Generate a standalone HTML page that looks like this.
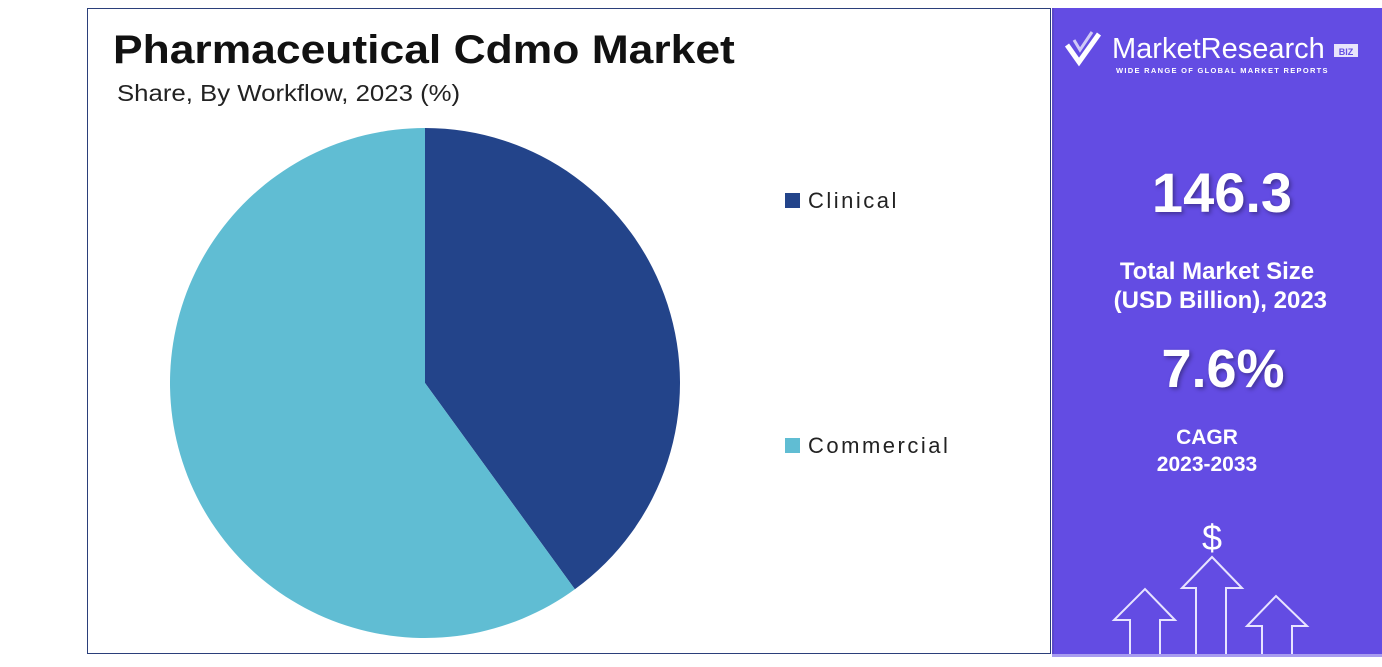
<!DOCTYPE html>
<html><head><meta charset="utf-8"><style>
body{margin:0;width:1382px;height:667px;background:#fff;position:relative;overflow:hidden;font-family:"Liberation Sans",sans-serif}
.abs{position:absolute}
</style></head><body>
<div class="abs" style="left:87px;top:8px;width:964px;height:646px;border:1px solid #2b3f7a;box-sizing:border-box"></div>
<div class="abs" style="left:113px;top:28px;font-size:40px;font-weight:bold;color:#111;transform:scaleX(1.11);transform-origin:0 0;white-space:nowrap">Pharmaceutical Cdmo Market</div>
<div class="abs" style="left:117px;top:80px;font-size:23px;color:#222;transform:scaleX(1.12);transform-origin:0 0;white-space:nowrap">Share, By Workflow, 2023 (%)</div>
<svg class="abs" style="left:0;top:0" width="1052" height="667">
<g id="pie"></g>
<g id="legend"></g>
</svg>
<div class="abs" style="left:1052px;top:8px;width:330px;height:647px;background:#634ce3;border-left:2px solid #5a48c8;box-sizing:border-box"></div>
<svg class="abs" style="left:1052px;top:0" width="330" height="667">
<g fill="none" stroke="#fff" stroke-width="5">
<path d="M15 45 L27 62 L47 34"/><path d="M22 40 L28 50 L40 32" stroke-width="3" opacity="0.7"/>
</g>
<text x="60" y="58" font-family="Liberation Sans" font-size="29" fill="#fff">MarketResearch</text>
<rect x="282" y="44" width="24" height="13" fill="#fff" opacity="0.85"/>
<text x="294" y="55" text-anchor="middle" font-size="9" font-weight="bold" fill="#634ce3">BIZ</text>
<text x="64" y="73" font-size="7.5" font-weight="bold" fill="#fff" letter-spacing="1.3">WIDE RANGE OF GLOBAL MARKET REPORTS</text>
<g fill="none" stroke="#e8e4ff" stroke-width="2">
<path d="M78 655 V620 H62 L93 589 L123 620 H108 V655"/>
<path d="M144 655 V588 H130 L160 557 L190 588 H174 V655"/>
<path d="M210 655 V626 H195 L224 596 L255 626 H240 V655"/>
</g>
<text x="160" y="550" text-anchor="middle" font-size="36" fill="#fff">$</text>
<rect x="0" y="654" width="330" height="3" fill="#a89cf0"/>
</svg>
<div class="abs" style="left:1057px;width:330px;top:160px;text-align:center;font-size:56px;font-weight:bold;color:#fff;text-shadow:2px 2px 4px rgba(0,0,0,0.35)">146.3</div>
<div class="abs" style="left:1052px;width:330px;top:257px;text-align:center;font-size:24px;font-weight:bold;color:#fff;line-height:29px">Total Market Size<br>&nbsp;(USD Billion), 2023</div>
<div class="abs" style="left:1058px;width:330px;top:338px;text-align:center;font-size:54px;font-weight:bold;color:#fff;text-shadow:2px 2px 4px rgba(0,0,0,0.35)">7.6%</div>
<div class="abs" style="left:1042px;width:330px;top:424px;text-align:center;font-size:21px;font-weight:bold;color:#fff;line-height:27px">CAGR<br>2023-2033</div>
<script>
const categories=["Clinical","Commercial"];
const values=[40,60];
const colors=["#23448a","#60bdd3"];
const NS="http://www.w3.org/2000/svg";
const cx=425,cy=383,r=255;
const pie=document.getElementById('pie');
const total=values.reduce((a,b)=>a+b,0);
let a0=0;
function pt(a){return [cx+r*Math.sin(a),cy-r*Math.cos(a)];}
values.forEach((v,i)=>{
  const a1=a0+v/total*2*Math.PI;
  const p0=pt(a0),p1=pt(a1);
  const large=(a1-a0)>Math.PI?1:0;
  const path=document.createElementNS(NS,'path');
  path.setAttribute('d',`M${cx},${cy} L${p0[0]},${p0[1]} A${r},${r} 0 ${large} 1 ${p1[0]},${p1[1]} Z`);
  path.setAttribute('fill',colors[i]);
  
  
  pie.appendChild(path);
  a0=a1;
});
const lg=document.getElementById('legend');
const ly=[200,445];
categories.forEach((c,i)=>{
  const g=document.createElementNS(NS,'g');
  
  
  const rc=document.createElementNS(NS,'rect');
  rc.setAttribute('x',785);rc.setAttribute('y',ly[i]-7);rc.setAttribute('width',15);rc.setAttribute('height',15);rc.setAttribute('fill',colors[i]);
  const t=document.createElementNS(NS,'text');
  t.setAttribute('x',808);t.setAttribute('y',ly[i]+8);t.setAttribute('font-size',22);t.setAttribute('fill','#222');t.setAttribute('font-family','Liberation Sans');
  t.setAttribute('letter-spacing','2.5');
  t.textContent=c;
  g.appendChild(rc);g.appendChild(t);lg.appendChild(g);
});
</script>
</body></html>
